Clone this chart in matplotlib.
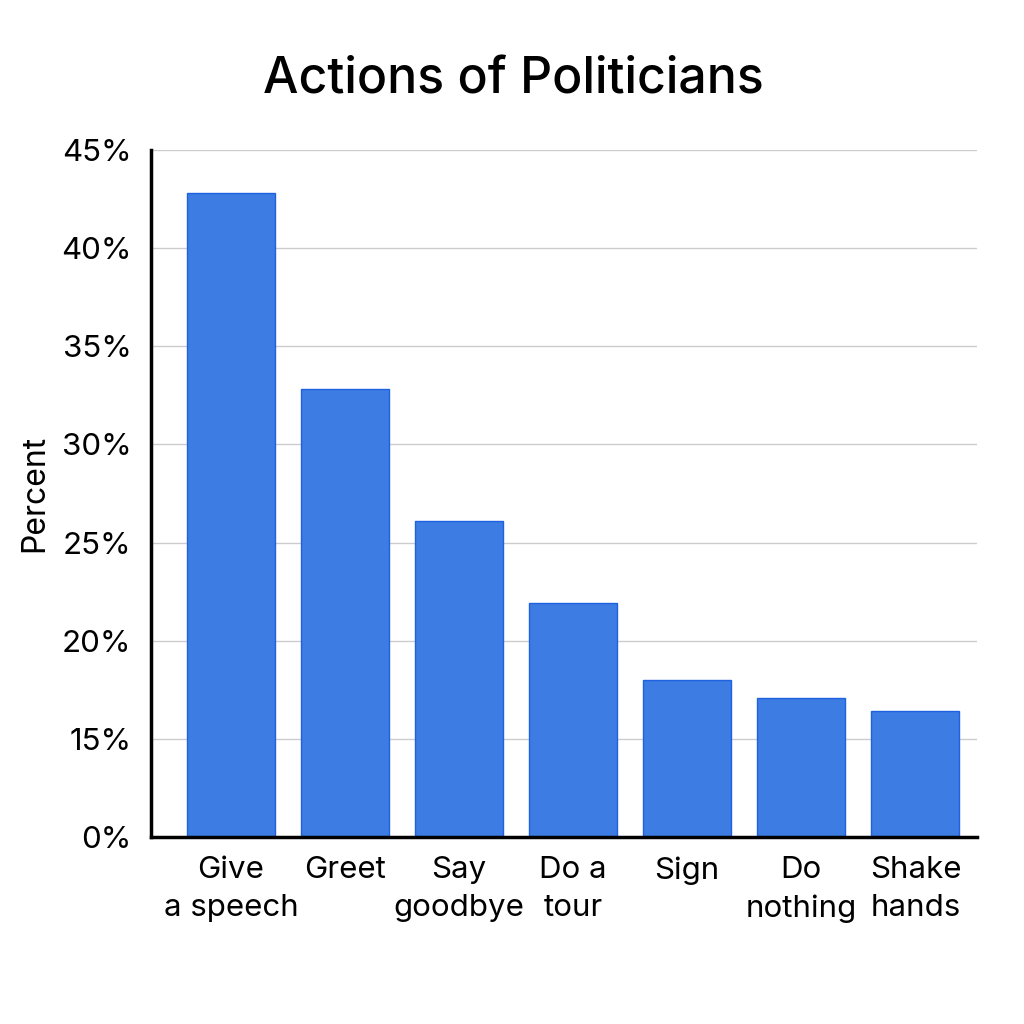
import matplotlib
matplotlib.use("Agg")
import matplotlib.pyplot as plt

categories = ["Give\na speech", "Greet", "Say\ngoodbye", "Do a\ntour", "Sign", "Do\nnothing", "Shake\nhands"]
values = [42.8, 32.8, 26.1, 21.9, 18.0, 17.1, 16.4]
ytick_pos = [10, 15, 20, 25, 30, 35, 40, 45]
ytick_labels = ["0%", "15%", "20%", "25%", "30%", "35%", "40%", "45%"]

plt.rcParams['font.family'] = ['Inter', 'DejaVu Sans']

fig = plt.figure(figsize=(10.24, 10.24), dpi=100)
ax = fig.add_axes([0.1475, 0.1826, 0.8066, 0.6709])

x = list(range(len(categories)))
ax.bar(x, values, width=0.77, color="#3c7ce3", edgecolor="#1f62e0", linewidth=1.0, zorder=3)

ax.set_ylim(10, 45)
ax.set_xlim(-0.70, 6.54)
ax.set_yticks(ytick_pos)
ax.set_yticklabels(ytick_labels, fontsize=22.5)
ax.set_xticks(x)
ax.set_xticklabels(categories, fontsize=22.5, linespacing=1.45)
ax.tick_params(axis='both', length=0)
ax.tick_params(axis='x', pad=14)
ax.tick_params(axis='y', pad=14)

for yv in ytick_pos[1:]:
    ax.axhline(yv, color="#cccccc", linewidth=1.0, zorder=1)

for s in ["top", "right"]:
    ax.spines[s].set_visible(False)
ax.spines["left"].set_linewidth(2.5)
ax.spines["bottom"].set_linewidth(2.5)
ax.spines["left"].set_zorder(4)
ax.spines["bottom"].set_zorder(4)

ax.set_ylabel("Percent", fontsize=23, labelpad=8)
fig.text(0.501, 0.922, "Actions of Politicians", ha="center", va="center", fontsize=36, fontweight="medium")

fig.savefig("out.png", dpi=100, facecolor="white")
